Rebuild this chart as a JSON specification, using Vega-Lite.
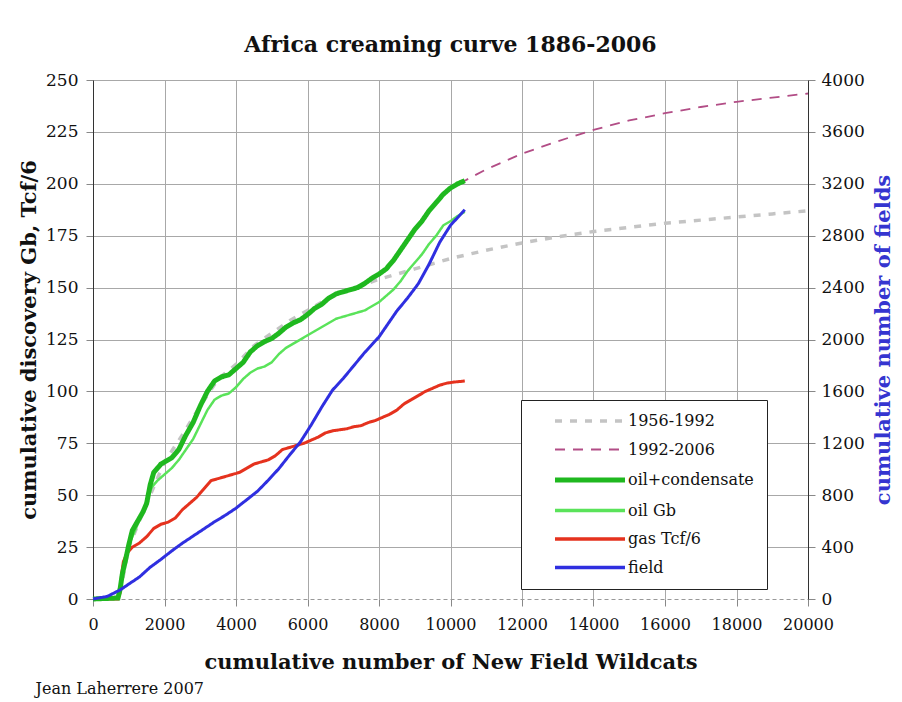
{
  "$schema": "https://vega.github.io/schema/vega-lite/v6.json",
  "padding": {"left": 18, "top": 34, "right": 2, "bottom": 2},
  "config": {
    "font": "DejaVu Serif",
    "view": {"stroke": null},
    "axis": {"labelFont": "DejaVu Serif", "titleFont": "DejaVu Serif", "labelFontSize": 17, "titleFontSize": 21, "titleFontWeight": "bold", "labelColor": "#111", "titleColor": "#111", "gridColor": "#a8a8a8", "gridWidth": 1, "tickColor": "#888", "tickSize": 7}
  },
  "title": {"text": "Jean Laherrere 2007", "orient": "bottom", "anchor": "start", "fontSize": 16, "fontWeight": "normal", "font": "DejaVu Serif", "color": "#111", "offset": 9, "dx": 17},
  "datasets": {
    "discovery": [
      {"series": "1956-1992", "wildcats": 760, "value": 3},
      {"series": "1956-1992", "wildcats": 1000, "value": 25},
      {"series": "1956-1992", "wildcats": 1500, "value": 46},
      {"series": "1956-1992", "wildcats": 2000, "value": 66},
      {"series": "1956-1992", "wildcats": 2500, "value": 79},
      {"series": "1956-1992", "wildcats": 3000, "value": 93},
      {"series": "1956-1992", "wildcats": 3500, "value": 106},
      {"series": "1956-1992", "wildcats": 4000, "value": 113},
      {"series": "1956-1992", "wildcats": 4500, "value": 122},
      {"series": "1956-1992", "wildcats": 5000, "value": 128},
      {"series": "1956-1992", "wildcats": 5500, "value": 134},
      {"series": "1956-1992", "wildcats": 6000, "value": 139},
      {"series": "1956-1992", "wildcats": 6500, "value": 144},
      {"series": "1956-1992", "wildcats": 7000, "value": 148},
      {"series": "1956-1992", "wildcats": 7500, "value": 151},
      {"series": "1956-1992", "wildcats": 8000, "value": 154},
      {"series": "1956-1992", "wildcats": 8500, "value": 156.5},
      {"series": "1956-1992", "wildcats": 9000, "value": 159},
      {"series": "1956-1992", "wildcats": 9500, "value": 161.5},
      {"series": "1956-1992", "wildcats": 10000, "value": 164},
      {"series": "1956-1992", "wildcats": 10500, "value": 166},
      {"series": "1956-1992", "wildcats": 11000, "value": 168},
      {"series": "1956-1992", "wildcats": 12000, "value": 171.5},
      {"series": "1956-1992", "wildcats": 13000, "value": 174.5},
      {"series": "1956-1992", "wildcats": 14000, "value": 177},
      {"series": "1956-1992", "wildcats": 15000, "value": 179},
      {"series": "1956-1992", "wildcats": 16000, "value": 181},
      {"series": "1956-1992", "wildcats": 17000, "value": 182.5},
      {"series": "1956-1992", "wildcats": 18000, "value": 184},
      {"series": "1956-1992", "wildcats": 19000, "value": 185.5},
      {"series": "1956-1992", "wildcats": 20000, "value": 187},
      {"series": "1992-2006", "wildcats": 8300, "value": 161},
      {"series": "1992-2006", "wildcats": 8600, "value": 168},
      {"series": "1992-2006", "wildcats": 9000, "value": 178},
      {"series": "1992-2006", "wildcats": 9400, "value": 187},
      {"series": "1992-2006", "wildcats": 9800, "value": 195},
      {"series": "1992-2006", "wildcats": 10200, "value": 200},
      {"series": "1992-2006", "wildcats": 10400, "value": 201.5},
      {"series": "1992-2006", "wildcats": 11000, "value": 207},
      {"series": "1992-2006", "wildcats": 12000, "value": 214.5},
      {"series": "1992-2006", "wildcats": 13000, "value": 220.5},
      {"series": "1992-2006", "wildcats": 14000, "value": 226},
      {"series": "1992-2006", "wildcats": 15000, "value": 230.5},
      {"series": "1992-2006", "wildcats": 16000, "value": 234},
      {"series": "1992-2006", "wildcats": 17000, "value": 237},
      {"series": "1992-2006", "wildcats": 18000, "value": 239.5},
      {"series": "1992-2006", "wildcats": 19000, "value": 241.5},
      {"series": "1992-2006", "wildcats": 20000, "value": 243.5},
      {"series": "oil Gb", "wildcats": 0, "value": 0},
      {"series": "oil Gb", "wildcats": 700, "value": 0.5},
      {"series": "oil Gb", "wildcats": 780, "value": 8},
      {"series": "oil Gb", "wildcats": 850, "value": 15},
      {"series": "oil Gb", "wildcats": 950, "value": 22},
      {"series": "oil Gb", "wildcats": 1050, "value": 28},
      {"series": "oil Gb", "wildcats": 1150, "value": 32},
      {"series": "oil Gb", "wildcats": 1250, "value": 36},
      {"series": "oil Gb", "wildcats": 1350, "value": 40},
      {"series": "oil Gb", "wildcats": 1450, "value": 45},
      {"series": "oil Gb", "wildcats": 1550, "value": 50},
      {"series": "oil Gb", "wildcats": 1650, "value": 54},
      {"series": "oil Gb", "wildcats": 1800, "value": 57},
      {"series": "oil Gb", "wildcats": 2000, "value": 60},
      {"series": "oil Gb", "wildcats": 2200, "value": 63},
      {"series": "oil Gb", "wildcats": 2400, "value": 67},
      {"series": "oil Gb", "wildcats": 2600, "value": 72},
      {"series": "oil Gb", "wildcats": 2800, "value": 77},
      {"series": "oil Gb", "wildcats": 3000, "value": 84},
      {"series": "oil Gb", "wildcats": 3200, "value": 91},
      {"series": "oil Gb", "wildcats": 3400, "value": 96},
      {"series": "oil Gb", "wildcats": 3600, "value": 98},
      {"series": "oil Gb", "wildcats": 3800, "value": 99},
      {"series": "oil Gb", "wildcats": 4000, "value": 102},
      {"series": "oil Gb", "wildcats": 4200, "value": 106},
      {"series": "oil Gb", "wildcats": 4400, "value": 109},
      {"series": "oil Gb", "wildcats": 4600, "value": 111},
      {"series": "oil Gb", "wildcats": 4800, "value": 112},
      {"series": "oil Gb", "wildcats": 5000, "value": 114},
      {"series": "oil Gb", "wildcats": 5200, "value": 118},
      {"series": "oil Gb", "wildcats": 5400, "value": 121},
      {"series": "oil Gb", "wildcats": 5600, "value": 123},
      {"series": "oil Gb", "wildcats": 5800, "value": 125},
      {"series": "oil Gb", "wildcats": 6000, "value": 127},
      {"series": "oil Gb", "wildcats": 6200, "value": 129},
      {"series": "oil Gb", "wildcats": 6400, "value": 131},
      {"series": "oil Gb", "wildcats": 6600, "value": 133},
      {"series": "oil Gb", "wildcats": 6800, "value": 135},
      {"series": "oil Gb", "wildcats": 7000, "value": 136},
      {"series": "oil Gb", "wildcats": 7200, "value": 137},
      {"series": "oil Gb", "wildcats": 7400, "value": 138},
      {"series": "oil Gb", "wildcats": 7600, "value": 139},
      {"series": "oil Gb", "wildcats": 7800, "value": 141},
      {"series": "oil Gb", "wildcats": 8000, "value": 143},
      {"series": "oil Gb", "wildcats": 8200, "value": 146},
      {"series": "oil Gb", "wildcats": 8400, "value": 149},
      {"series": "oil Gb", "wildcats": 8600, "value": 153},
      {"series": "oil Gb", "wildcats": 8800, "value": 158},
      {"series": "oil Gb", "wildcats": 9000, "value": 162},
      {"series": "oil Gb", "wildcats": 9200, "value": 166},
      {"series": "oil Gb", "wildcats": 9400, "value": 171},
      {"series": "oil Gb", "wildcats": 9600, "value": 175},
      {"series": "oil Gb", "wildcats": 9800, "value": 180},
      {"series": "oil Gb", "wildcats": 10000, "value": 182},
      {"series": "oil Gb", "wildcats": 10200, "value": 184.5},
      {"series": "oil Gb", "wildcats": 10400, "value": 186.5},
      {"series": "gas Tcf/6", "wildcats": 0, "value": 0},
      {"series": "gas Tcf/6", "wildcats": 700, "value": 0},
      {"series": "gas Tcf/6", "wildcats": 760, "value": 3},
      {"series": "gas Tcf/6", "wildcats": 800, "value": 12},
      {"series": "gas Tcf/6", "wildcats": 850, "value": 18},
      {"series": "gas Tcf/6", "wildcats": 950, "value": 22},
      {"series": "gas Tcf/6", "wildcats": 1100, "value": 25},
      {"series": "gas Tcf/6", "wildcats": 1300, "value": 27},
      {"series": "gas Tcf/6", "wildcats": 1500, "value": 30},
      {"series": "gas Tcf/6", "wildcats": 1700, "value": 34},
      {"series": "gas Tcf/6", "wildcats": 1900, "value": 36},
      {"series": "gas Tcf/6", "wildcats": 2100, "value": 37},
      {"series": "gas Tcf/6", "wildcats": 2300, "value": 39},
      {"series": "gas Tcf/6", "wildcats": 2500, "value": 43},
      {"series": "gas Tcf/6", "wildcats": 2700, "value": 46},
      {"series": "gas Tcf/6", "wildcats": 2900, "value": 49},
      {"series": "gas Tcf/6", "wildcats": 3100, "value": 53},
      {"series": "gas Tcf/6", "wildcats": 3300, "value": 57},
      {"series": "gas Tcf/6", "wildcats": 3500, "value": 58},
      {"series": "gas Tcf/6", "wildcats": 3700, "value": 59},
      {"series": "gas Tcf/6", "wildcats": 3900, "value": 60},
      {"series": "gas Tcf/6", "wildcats": 4100, "value": 61},
      {"series": "gas Tcf/6", "wildcats": 4300, "value": 63},
      {"series": "gas Tcf/6", "wildcats": 4500, "value": 65},
      {"series": "gas Tcf/6", "wildcats": 4700, "value": 66},
      {"series": "gas Tcf/6", "wildcats": 4900, "value": 67},
      {"series": "gas Tcf/6", "wildcats": 5100, "value": 69},
      {"series": "gas Tcf/6", "wildcats": 5300, "value": 72},
      {"series": "gas Tcf/6", "wildcats": 5500, "value": 73},
      {"series": "gas Tcf/6", "wildcats": 5700, "value": 74},
      {"series": "gas Tcf/6", "wildcats": 5900, "value": 75},
      {"series": "gas Tcf/6", "wildcats": 6100, "value": 76.5},
      {"series": "gas Tcf/6", "wildcats": 6300, "value": 78},
      {"series": "gas Tcf/6", "wildcats": 6500, "value": 80},
      {"series": "gas Tcf/6", "wildcats": 6700, "value": 81},
      {"series": "gas Tcf/6", "wildcats": 6900, "value": 81.5},
      {"series": "gas Tcf/6", "wildcats": 7100, "value": 82},
      {"series": "gas Tcf/6", "wildcats": 7300, "value": 83},
      {"series": "gas Tcf/6", "wildcats": 7500, "value": 83.5},
      {"series": "gas Tcf/6", "wildcats": 7700, "value": 85},
      {"series": "gas Tcf/6", "wildcats": 7900, "value": 86},
      {"series": "gas Tcf/6", "wildcats": 8100, "value": 87.5},
      {"series": "gas Tcf/6", "wildcats": 8300, "value": 89},
      {"series": "gas Tcf/6", "wildcats": 8500, "value": 91},
      {"series": "gas Tcf/6", "wildcats": 8700, "value": 94},
      {"series": "gas Tcf/6", "wildcats": 8900, "value": 96},
      {"series": "gas Tcf/6", "wildcats": 9100, "value": 98},
      {"series": "gas Tcf/6", "wildcats": 9300, "value": 100},
      {"series": "gas Tcf/6", "wildcats": 9500, "value": 101.5},
      {"series": "gas Tcf/6", "wildcats": 9700, "value": 103},
      {"series": "gas Tcf/6", "wildcats": 9900, "value": 104},
      {"series": "gas Tcf/6", "wildcats": 10100, "value": 104.5},
      {"series": "gas Tcf/6", "wildcats": 10400, "value": 105},
      {"series": "oil+condensate", "wildcats": 0, "value": 0},
      {"series": "oil+condensate", "wildcats": 700, "value": 0.5},
      {"series": "oil+condensate", "wildcats": 760, "value": 5},
      {"series": "oil+condensate", "wildcats": 820, "value": 12},
      {"series": "oil+condensate", "wildcats": 900, "value": 18},
      {"series": "oil+condensate", "wildcats": 1000, "value": 26},
      {"series": "oil+condensate", "wildcats": 1100, "value": 33},
      {"series": "oil+condensate", "wildcats": 1200, "value": 36},
      {"series": "oil+condensate", "wildcats": 1300, "value": 39},
      {"series": "oil+condensate", "wildcats": 1400, "value": 42},
      {"series": "oil+condensate", "wildcats": 1500, "value": 46},
      {"series": "oil+condensate", "wildcats": 1600, "value": 55},
      {"series": "oil+condensate", "wildcats": 1700, "value": 61},
      {"series": "oil+condensate", "wildcats": 1800, "value": 63},
      {"series": "oil+condensate", "wildcats": 1900, "value": 65},
      {"series": "oil+condensate", "wildcats": 2000, "value": 66},
      {"series": "oil+condensate", "wildcats": 2200, "value": 68},
      {"series": "oil+condensate", "wildcats": 2400, "value": 72},
      {"series": "oil+condensate", "wildcats": 2600, "value": 79},
      {"series": "oil+condensate", "wildcats": 2800, "value": 85},
      {"series": "oil+condensate", "wildcats": 3000, "value": 93},
      {"series": "oil+condensate", "wildcats": 3200, "value": 100},
      {"series": "oil+condensate", "wildcats": 3400, "value": 105},
      {"series": "oil+condensate", "wildcats": 3600, "value": 107},
      {"series": "oil+condensate", "wildcats": 3800, "value": 108},
      {"series": "oil+condensate", "wildcats": 4000, "value": 111},
      {"series": "oil+condensate", "wildcats": 4200, "value": 114},
      {"series": "oil+condensate", "wildcats": 4400, "value": 119},
      {"series": "oil+condensate", "wildcats": 4600, "value": 122},
      {"series": "oil+condensate", "wildcats": 4800, "value": 124},
      {"series": "oil+condensate", "wildcats": 5000, "value": 125.5},
      {"series": "oil+condensate", "wildcats": 5200, "value": 128},
      {"series": "oil+condensate", "wildcats": 5400, "value": 131},
      {"series": "oil+condensate", "wildcats": 5600, "value": 133},
      {"series": "oil+condensate", "wildcats": 5800, "value": 134.5},
      {"series": "oil+condensate", "wildcats": 6000, "value": 137},
      {"series": "oil+condensate", "wildcats": 6200, "value": 140},
      {"series": "oil+condensate", "wildcats": 6400, "value": 142},
      {"series": "oil+condensate", "wildcats": 6600, "value": 145},
      {"series": "oil+condensate", "wildcats": 6800, "value": 147},
      {"series": "oil+condensate", "wildcats": 7000, "value": 148},
      {"series": "oil+condensate", "wildcats": 7200, "value": 149},
      {"series": "oil+condensate", "wildcats": 7400, "value": 150},
      {"series": "oil+condensate", "wildcats": 7600, "value": 152},
      {"series": "oil+condensate", "wildcats": 7800, "value": 154.5},
      {"series": "oil+condensate", "wildcats": 8000, "value": 156.5},
      {"series": "oil+condensate", "wildcats": 8200, "value": 159},
      {"series": "oil+condensate", "wildcats": 8400, "value": 163},
      {"series": "oil+condensate", "wildcats": 8600, "value": 168},
      {"series": "oil+condensate", "wildcats": 8800, "value": 173},
      {"series": "oil+condensate", "wildcats": 9000, "value": 178},
      {"series": "oil+condensate", "wildcats": 9200, "value": 182},
      {"series": "oil+condensate", "wildcats": 9400, "value": 187},
      {"series": "oil+condensate", "wildcats": 9600, "value": 191},
      {"series": "oil+condensate", "wildcats": 9800, "value": 195},
      {"series": "oil+condensate", "wildcats": 10000, "value": 198},
      {"series": "oil+condensate", "wildcats": 10200, "value": 200},
      {"series": "oil+condensate", "wildcats": 10400, "value": 201.5}
    ],
    "fields": [
      {"series": "field", "wildcats": 0, "fields": 0},
      {"series": "field", "wildcats": 400, "fields": 20},
      {"series": "field", "wildcats": 760, "fields": 70},
      {"series": "field", "wildcats": 1000, "fields": 115},
      {"series": "field", "wildcats": 1300, "fields": 170},
      {"series": "field", "wildcats": 1600, "fields": 245},
      {"series": "field", "wildcats": 1900, "fields": 305},
      {"series": "field", "wildcats": 2200, "fields": 370},
      {"series": "field", "wildcats": 2500, "fields": 430},
      {"series": "field", "wildcats": 2800, "fields": 485},
      {"series": "field", "wildcats": 3100, "fields": 540},
      {"series": "field", "wildcats": 3400, "fields": 595},
      {"series": "field", "wildcats": 3700, "fields": 645},
      {"series": "field", "wildcats": 4000, "fields": 700},
      {"series": "field", "wildcats": 4300, "fields": 765},
      {"series": "field", "wildcats": 4600, "fields": 830},
      {"series": "field", "wildcats": 4900, "fields": 915},
      {"series": "field", "wildcats": 5200, "fields": 1005},
      {"series": "field", "wildcats": 5500, "fields": 1110},
      {"series": "field", "wildcats": 5800, "fields": 1210},
      {"series": "field", "wildcats": 6100, "fields": 1340},
      {"series": "field", "wildcats": 6400, "fields": 1480},
      {"series": "field", "wildcats": 6700, "fields": 1610},
      {"series": "field", "wildcats": 7000, "fields": 1700},
      {"series": "field", "wildcats": 7300, "fields": 1800},
      {"series": "field", "wildcats": 7600, "fields": 1900},
      {"series": "field", "wildcats": 8000, "fields": 2020},
      {"series": "field", "wildcats": 8200, "fields": 2100},
      {"series": "field", "wildcats": 8500, "fields": 2220},
      {"series": "field", "wildcats": 8800, "fields": 2320},
      {"series": "field", "wildcats": 9100, "fields": 2430},
      {"series": "field", "wildcats": 9400, "fields": 2580},
      {"series": "field", "wildcats": 9700, "fields": 2750},
      {"series": "field", "wildcats": 10000, "fields": 2880},
      {"series": "field", "wildcats": 10200, "fields": 2940},
      {"series": "field", "wildcats": 10400, "fields": 3000}
    ]
  },
  "vconcat": [
    {
      "title": {"text": "Africa creaming curve 1886-2006", "fontSize": 22, "fontWeight": "bold", "font": "DejaVu Serif", "color": "#111", "offset": 14},
      "width": 715,
      "height": 519,
      "layer": [
        {
          "data": {"name": "discovery"},
          "layer": [
            {
              "transform": [{"filter": "datum.series === '1956-1992'"}],
              "mark": {"type": "line", "strokeWidth": 3.5},
              "encoding": {
                "x": {"field": "wildcats", "type": "quantitative", "scale": {"domain": [0, 20000], "nice": false}, "axis": {"title": "cumulative number of New Field Wildcats", "values": [0, 2000, 4000, 6000, 8000, 10000, 12000, 14000, 16000, 18000, 20000], "format": "d", "labelFontSize": 16, "labelOverlap": false, "labelFlush": false, "labelBound": false, "domainColor": "#999", "domainDash": [4, 3], "labelPadding": 10, "titlePadding": 19}},
                "y": {"field": "value", "type": "quantitative", "scale": {"domain": [0, 250], "nice": false}, "axis": {"title": "cumulative discovery Gb, Tcf/6", "orient": "left", "values": [0, 25, 50, 75, 100, 125, 150, 175, 200, 225, 250], "labelFlush": false, "domainColor": "#333", "labelPadding": 8, "titlePadding": 6, "gridOpacity": {"condition": {"test": "datum.value === 0", "value": 0}, "value": 1}}},
                "color": {
                  "field": "series", "type": "nominal",
                  "scale": {"domain": ["1956-1992", "1992-2006", "oil+condensate", "oil Gb", "gas Tcf/6", "field"], "range": ["#c4c4c4", "#b24d86", "#1fb81f", "#5ae35a", "#e5321e", "#2f2fe0"]},
                  "legend": {
                    "title": null, "orient": "none", "legendX": 428, "legendY": 320,
                    "symbolType": "M-3.5,0H3.5", "symbolSize": 400, "symbolOffset": 48, "labelOffset": 30,
                    "labelFontSize": 16, "labelFont": "DejaVu Serif", "labelColor": "#111",
                    "strokeColor": "#222", "fillColor": "white", "padding": 13, "rowPadding": 12.5, "symbolStrokeWidth": 3,
                    "encode": {
                      "symbols": {
                        "update": {
                          "strokeDash": {"signal": "datum.value === '1956-1992' ? [9,7] : datum.value === '1992-2006' ? [10,6] : datum.value === 'oil Gb' ? [24,16] : [1,0]"},
                          "strokeWidth": {"signal": "datum.value === 'oil+condensate' ? 5 : datum.value === '1992-2006' ? 1.8 : 3.5"}
                        }
                      }
                    }
                  }
                },
                "strokeDash": {"field": "series", "type": "nominal", "scale": {"domain": ["1956-1992", "1992-2006", "oil+condensate", "oil Gb", "gas Tcf/6", "field"], "range": [[7, 8], [10, 8], [1, 0], [1, 0], [1, 0], [1, 0]]}}
              }
            },
            {
              "transform": [{"filter": "datum.series === '1992-2006'"}],
              "mark": {"type": "line", "strokeWidth": 1.8},
              "encoding": {
                "x": {"field": "wildcats", "type": "quantitative"},
                "y": {"field": "value", "type": "quantitative"},
                "color": {"field": "series", "type": "nominal"},
                "strokeDash": {"field": "series", "type": "nominal"}
              }
            },
            {
              "transform": [{"filter": "datum.series === 'oil Gb'"}],
              "mark": {"type": "line", "strokeWidth": 2.5},
              "encoding": {
                "x": {"field": "wildcats", "type": "quantitative"},
                "y": {"field": "value", "type": "quantitative"},
                "color": {"field": "series", "type": "nominal"},
                "strokeDash": {"field": "series", "type": "nominal"}
              }
            },
            {
              "transform": [{"filter": "datum.series === 'gas Tcf/6'"}],
              "mark": {"type": "line", "strokeWidth": 3},
              "encoding": {
                "x": {"field": "wildcats", "type": "quantitative"},
                "y": {"field": "value", "type": "quantitative"},
                "color": {"field": "series", "type": "nominal"},
                "strokeDash": {"field": "series", "type": "nominal"}
              }
            },
            {
              "transform": [{"filter": "datum.series === 'oil+condensate'"}],
              "mark": {"type": "line", "strokeWidth": 5},
              "encoding": {
                "x": {"field": "wildcats", "type": "quantitative"},
                "y": {"field": "value", "type": "quantitative"},
                "color": {"field": "series", "type": "nominal"},
                "strokeDash": {"field": "series", "type": "nominal"}
              }
            }
          ]
        },
        {
          "data": {"name": "fields"},
          "mark": {"type": "line", "strokeWidth": 3},
          "encoding": {
            "x": {"field": "wildcats", "type": "quantitative"},
            "y": {"field": "fields", "type": "quantitative", "scale": {"domain": [0, 4000], "nice": false}, "axis": {"title": "cumulative number of fields", "orient": "right", "titleColor": "#3535d0", "titleAngle": 270, "titleBaseline": "top", "format": "d", "labelFlush": false, "values": [0, 400, 800, 1200, 1600, 2000, 2400, 2800, 3200, 3600, 4000], "grid": false, "domainColor": "#333", "labelPadding": 6, "titlePadding": 8}},
            "color": {"field": "series", "type": "nominal"},
            "strokeDash": {"field": "series", "type": "nominal"}
          }
        }
      ],
      "resolve": {"scale": {"y": "independent"}}
    }
  ]
}
